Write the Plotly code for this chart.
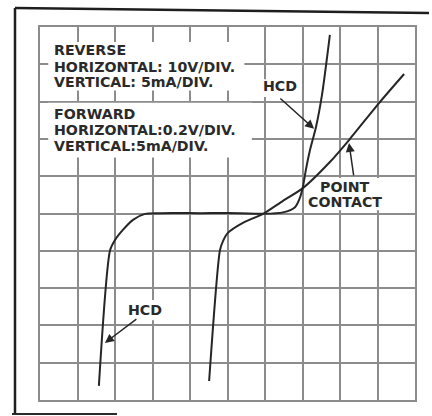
import plotly.graph_objects as go

# ---- data (grid divisions: x 0..10, y 0..10) ----
rev_hcd_x = [1.57, 1.87, 2.0, 2.21, 2.48, 2.8, 3.2, 4.27, 5.33, 5.95]
rev_hcd_y = [0.38, 4.02, 4.29, 4.56, 4.83, 4.99, 5.01, 5.01, 5.01, 4.99]

point_contact_x = [4.51, 4.8, 4.88, 5.01, 5.41, 5.95, 6.48, 7.01, 7.73, 8.24, 9.04, 9.71]
point_contact_y = [0.51, 4.02, 4.26, 4.48, 4.75, 4.99, 5.34, 5.68, 6.38, 6.97, 7.96, 8.74]

fwd_hcd_x = [5.95, 6.48, 6.8, 6.93, 7.01, 7.09, 7.2, 7.36, 7.52, 7.73]
fwd_hcd_y = [4.99, 5.03, 5.17, 5.42, 5.71, 6.17, 6.70, 7.32, 8.18, 9.79]

reverse_lines = ["REVERSE", "HORIZONTAL: 10V/DIV.", "VERTICAL: 5mA/DIV."]
forward_lines = ["FORWARD", "HORIZONTAL:0.2V/DIV.", "VERTICAL:5mA/DIV."]

INK = "#262626"
GRID = "#8c8c8c"
FONT = dict(family="DejaVu Sans", size=14.2, color="#2a2a2a", weight="bold")

fig = go.Figure()
for xs, ys in [(rev_hcd_x, rev_hcd_y), (point_contact_x, point_contact_y), (fwd_hcd_x, fwd_hcd_y)]:
    fig.add_trace(go.Scatter(x=xs, y=ys, mode="lines",
                             line=dict(color=INK, width=2, shape="spline", smoothing=0.7),
                             hoverinfo="skip", showlegend=False))

axis_common = dict(range=[0, 10], dtick=1, tick0=0, showgrid=True, gridcolor=GRID,
                   gridwidth=1.5, showticklabels=False, ticks="", zeroline=False,
                   showline=True, linecolor=GRID, linewidth=1.5, mirror=True, fixedrange=True)

shapes = []
# white backings for text
for x0, x1, y0, y1 in [(0.22, 5.45, 8.3, 9.6), (0.22, 5.65, 6.5, 7.97),
                       (5.87, 6.93, 8.12, 8.6), (7.1, 9.15, 5.09, 5.95),
                       (2.27, 3.33, 2.14, 2.68)]:
    shapes.append(dict(type="rect", xref="x", yref="y", x0=x0, x1=x1, y0=y0, y1=y1,
                       fillcolor="white", line=dict(width=0), layer="between"))
# outer frame (paper coords: plot area spans page px 40..415, 27..400)
def px(x):
    return (x - 40) / 375.0
def py(y):
    return (400 - y) / 373.0
shapes.append(dict(type="line", xref="paper", yref="paper", x0=px(15), y0=py(8), x1=px(15), y1=py(413),
                   line=dict(color="#1e1e1e", width=2.5)))
shapes.append(dict(type="line", xref="paper", yref="paper", x0=px(15), y0=py(8), x1=px(429), y1=py(13),
                   line=dict(color="#1e1e1e", width=2.5)))
shapes.append(dict(type="line", xref="paper", yref="paper", x0=px(12), y0=py(414), x1=px(117), y1=py(414),
                   line=dict(color="#2a2a2a", width=2)))

def gy(p):
    return (400 - p) / 37.3

annotations = []
for txt, yy in zip(reverse_lines, [50, 67, 82]):
    annotations.append(dict(x=0.33, y=gy(yy), xref="x", yref="y", text=txt, showarrow=False,
                            xanchor="left", yanchor="middle", font=FONT))
for txt, yy in zip(forward_lines, [114, 130, 146]):
    annotations.append(dict(x=0.33, y=gy(yy), xref="x", yref="y", text=txt, showarrow=False,
                            xanchor="left", yanchor="middle", font=FONT))
for txt, xx, yy in [("HCD", 6.4, 8.42), ("POINT", 8.13, 5.71), ("CONTACT", 8.13, 5.31), ("HCD", 2.8, 2.41)]:
    annotations.append(dict(x=xx, y=yy, xref="x", yref="y", text=txt, showarrow=False,
                            xanchor="center", yanchor="middle", font=FONT))
# arrows: (tip x, tip y, tail x, tail y)
for tx, ty, ax, ay in [(7.31, 7.27, 6.37, 8.12), (8.24, 6.89, 8.37, 5.98), (1.73, 1.53, 2.61, 2.2)]:
    annotations.append(dict(x=tx, y=ty, ax=ax, ay=ay, xref="x", yref="y", axref="x", ayref="y",
                            text="", showarrow=True, arrowhead=2, arrowsize=1.2, arrowwidth=1.5,
                            arrowcolor=INK))

fig.update_layout(width=432, height=416, margin=dict(l=40, r=17, t=27, b=16),
                  paper_bgcolor="white", plot_bgcolor="white",
                  xaxis=axis_common, yaxis=axis_common,
                  shapes=shapes, annotations=annotations, showlegend=False)

fig.write_html("out.html", config={"displayModeBar": False},
               post_script="document.body.style.margin='0';document.body.style.overflow='hidden';")
